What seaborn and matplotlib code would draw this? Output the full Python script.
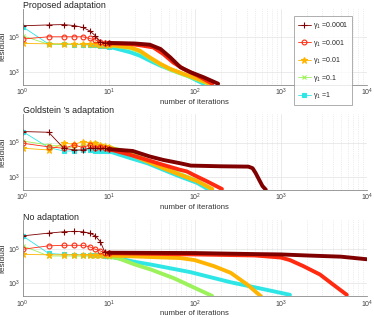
import numpy as np
import pandas as pd
import seaborn as sns
import matplotlib
matplotlib.use("Agg")
import matplotlib.pyplot as plt
from matplotlib.lines import Line2D
from matplotlib.ticker import LogLocator, NullLocator, NullFormatter

# ---- data (residuals stored as log10) ----
labels = [r"$\gamma_1$ =0.0001", r"$\gamma_1$ =0.001", r"$\gamma_1$ =0.01",
          r"$\gamma_1$ =0.1", r"$\gamma_1$ =1"]
colors = ["#800000", "#ff2a10", "#ffb400", "#9cf25a", "#2ee6e6"]
markers = ["+", "o", "*", "x", "s"]
titles = ["Proposed adaptation", "Goldstein \u2032s adaptation", "No adaptation"]

early_iter = [1, 2, 3, 4, 5, 6, 7, 8, 9, 10]

# Proposed adaptation
prop_early = [
    [5.68, 5.73, 5.75, 5.69, 5.58, 5.39, 5.10, 4.75, 4.69, 4.68],
    [4.91, 5.04, 5.04, 5.04, 5.04, 4.94, 4.85, 4.75, 4.68, 4.66],
    [4.65, 4.63, 4.63, 4.62, 4.61, 4.60, 4.60, 4.59, 4.58, 4.57],
    [5.10, 4.60, 4.60, 4.59, 4.59, 4.58, 4.58, 4.57, 4.56, 4.55],
    [5.62, 4.62, 4.60, 4.59, 4.58, 4.56, 4.54, 4.52, 4.50, 4.47],
]
prop_late_x = [
    [10, 20, 30, 40, 52, 68, 89, 126, 187],
    [10, 18, 25, 33, 43, 56, 74, 107, 160],
    [10, 18, 23, 30, 40, 52, 74, 107, 150],
    [10, 18, 23, 30, 40, 52, 74, 107, 148],
    [10, 18, 23, 30, 40, 56, 81, 126],
]
prop_late_y = [
    [4.68, 4.65, 4.58, 4.33, 3.84, 3.27, 2.98, 2.69, 2.31],
    [4.66, 4.62, 4.52, 4.42, 4.04, 3.55, 3.17, 2.79, 2.31],
    [4.57, 4.42, 4.23, 3.84, 3.46, 3.17, 2.88, 2.60, 2.31],
    [4.55, 4.38, 4.18, 3.80, 3.42, 3.13, 2.84, 2.56, 2.28],
    [4.47, 4.13, 3.94, 3.65, 3.36, 3.08, 2.79, 2.31],
]

# Goldstein's adaptation
gold_early = [
    [5.64, 5.60, 4.67, 4.57, 4.57, 4.67, 4.67, 4.67, 4.67, 4.62],
    [4.96, 4.75, 4.67, 4.86, 4.71, 4.86, 4.71, 4.77, 4.67, 4.62],
    [4.67, 4.57, 4.96, 4.90, 5.06, 4.96, 4.96, 4.86, 4.82, 4.75],
    [5.09, 4.86, 4.77, 4.67, 4.86, 4.86, 4.96, 4.86, 4.77, 4.72],
    [5.64, 4.71, 4.51, 4.51, 4.57, 4.57, 4.51, 4.51, 4.51, 4.50],
]
gold_late_x = [
    [10, 19, 30, 43, 67, 90, 200, 420, 470, 510, 560, 613, 670],
    [10, 18, 28, 43, 67, 81, 96, 138, 207],
    [10, 14, 19, 28, 43, 67, 107, 160],
    [10, 14, 19, 28, 43, 67, 107, 155],
    [10, 18, 28, 43, 67, 107, 141],
]
gold_late_y = [
    [4.62, 4.51, 4.19, 3.99, 3.80, 3.66, 3.62, 3.60, 3.51, 3.23, 2.84, 2.47, 2.26],
    [4.62, 4.28, 3.99, 3.70, 3.42, 3.32, 3.13, 2.75, 2.30],
    [4.70, 4.50, 4.25, 3.90, 3.51, 3.13, 2.75, 2.30],
    [4.72, 4.55, 4.35, 3.97, 3.56, 3.17, 2.78, 2.30],
    [4.50, 4.09, 3.80, 3.42, 3.03, 2.65, 2.30],
]

# No adaptation
none_early = [
    [5.76, 5.92, 6.00, 6.02, 6.00, 5.92, 5.76, 5.41, 4.82, 4.78],
    [4.98, 5.18, 5.21, 5.21, 5.21, 5.12, 4.98, 4.88, 4.78, 4.75],
    [4.68, 4.66, 4.66, 4.65, 4.65, 4.64, 4.64, 4.63, 4.63, 4.62],
    [5.18, 4.59, 4.59, 4.59, 4.58, 4.58, 4.58, 4.57, 4.57, 4.55],
    [5.76, 4.74, 4.68, 4.67, 4.66, 4.65, 4.64, 4.62, 4.61, 4.60],
]
none_late_x = [
    [10, 100, 500, 1000, 2000, 5000, 10000],
    [10, 100, 500, 1000, 1280, 1830, 2860, 4080, 5860],
    [10, 31, 68, 100, 167, 262, 410, 590],
    [10, 13, 20, 31, 57, 89, 120, 159],
    [10, 20, 31, 89, 262, 630, 1280],
]
none_late_y = [
    [4.78, 4.76, 4.70, 4.68, 4.62, 4.55, 4.40],
    [4.75, 4.68, 4.62, 4.50, 4.35, 4.00, 3.51, 2.92, 2.33],
    [4.62, 4.53, 4.47, 4.35, 4.00, 3.61, 2.92, 2.24],
    [4.55, 4.45, 4.10, 3.80, 3.30, 2.85, 2.55, 2.27],
    [4.58, 4.25, 4.09, 3.65, 3.06, 2.66, 2.33],
]

panels = [(prop_early, prop_late_x, prop_late_y),
          (gold_early, gold_late_x, gold_late_y),
          (none_early, none_late_x, none_late_y)]

# ---- style ----
sns.set_style("white")
plt.rcParams["font.family"] = ["Liberation Sans", "DejaVu Sans"]
plt.rcParams["mathtext.fontset"] = "custom"
plt.rcParams["mathtext.rm"] = "Liberation Sans"
plt.rcParams["mathtext.it"] = "Liberation Sans"

msize = {"+": 4.5, "o": 3.5, "*": 4.5, "x": 3.5, "s": 3.0}
mfc = {"+": None, "o": "none", "*": None, "x": None, "s": None}

fig = plt.figure(figsize=(3.74, 3.18), dpi=100)
bottoms = [0.733, 0.4025, 0.068]
axes = [fig.add_axes([0.0607, b, 0.92, 0.24]) for b in bottoms]

for ax, title, (early, late_x, late_y) in zip(axes, titles, panels):
    # draw gamma=1 first so gamma=0.0001 ends on top
    for i in reversed(range(5)):
        c, m = colors[i], markers[i]
        df_e = pd.DataFrame({"it": early_iter, "res": 10 ** np.array(early[i])})
        df_l = pd.DataFrame({"it": late_x[i], "res": 10 ** np.array(late_y[i])})
        sns.lineplot(data=df_l, x="it", y="res", ax=ax, color=c, lw=2.8,
                     estimator=None, sort=False, legend=False,
                     solid_capstyle="round")
        kw = dict(marker=m, ms=msize[m], mew=0.8, mec=c)
        kw["mfc"] = mfc[m] if mfc[m] else c
        sns.lineplot(data=df_e, x="it", y="res", ax=ax, color=c, lw=0.6,
                     estimator=None, sort=False, legend=False, **kw)

    ax.set_xscale("log")
    ax.set_yscale("log")
    ax.set_xlim(1, 1e4)
    ax.set_ylim(10 ** 2.24, 10 ** 6.68)
    ax.set_yticks([1e3, 1e5])
    ax.yaxis.set_minor_locator(NullLocator())
    ax.xaxis.set_major_locator(LogLocator(base=10, numticks=10))
    ax.xaxis.set_minor_locator(LogLocator(base=10, subs=np.arange(2, 10), numticks=20))
    ax.xaxis.set_minor_formatter(NullFormatter())
    ax.grid(True, which="major", color="#e3e3e3", lw=0.5)
    ax.grid(True, which="minor", axis="x", color="#dcdcdc", lw=0.5, ls=":")
    ax.set_axisbelow(True)
    for s in ["top", "right"]:
        ax.spines[s].set_visible(False)
    for s in ["left", "bottom"]:
        ax.spines[s].set_color("#8a8a8a")
        ax.spines[s].set_linewidth(0.6)
    ax.tick_params(which="both", direction="in", color="#8a8a8a", width=0.5,
                   labelsize=5, labelcolor="#404040", pad=1.5)
    ax.tick_params(which="major", length=2.5)
    ax.tick_params(which="minor", length=1.5)
    ax.set_title(title, loc="left", fontsize=6.4, pad=0.3, color="#222222")
    ax.set_xlabel("number of iterations", fontsize=5.6, labelpad=0.5, color="#333333")
    ax.set_ylabel("residual", fontsize=6, labelpad=1, color="#333333")

handles = [Line2D([0], [0], color=colors[i], lw=0.6, marker=markers[i],
                  ms=msize[markers[i]], mew=0.8, mec=colors[i],
                  mfc=(mfc[markers[i]] or colors[i]))
           for i in range(5)]
leg = axes[0].legend(handles, labels, loc="upper left", bbox_to_anchor=(0.789, 0.90),
                     fontsize=5.0, frameon=True, fancybox=False, handlelength=1.8,
                     handletextpad=0.35, labelspacing=0.95, borderpad=0.55,
                     borderaxespad=0)
leg.get_frame().set_edgecolor("#8a8a8a")
leg.get_frame().set_linewidth(0.6)

fig.savefig("out.png", dpi=100)
